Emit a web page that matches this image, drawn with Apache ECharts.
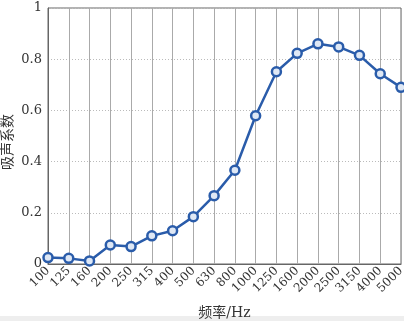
<!DOCTYPE html>
<html><head><meta charset="utf-8">
<script src="https://cdn.jsdelivr.net/npm/echarts@6/dist/echarts.min.js"></script>
<style>html,body{margin:0;padding:0;background:#fff}#c{width:404px;height:321px}</style>
</head><body><div id="c"></div>
<script>
const categories = ['100','125','160','200','250','315','400','500','630','800','1000','1250','1600','2000','2500','3150','4000','5000'];
const absorption = [0.025,0.022,0.012,0.074,0.068,0.11,0.13,0.185,0.267,0.366,0.579,0.751,0.823,0.86,0.848,0.815,0.743,0.69];
const yTicks = [0,0.2,0.4,0.6,0.8,1];
const yName = '吸声系数';
const xName = '频率/Hz';
const chart = echarts.init(document.getElementById('c'));
const serif = '"DejaVu Serif","Liberation Serif","Noto Sans CJK SC",serif';
chart.setOption({
  animation:false,
  backgroundColor:'#fff',
  graphic:[
    {type:'rect',left:0,top:316,shape:{width:404,height:5},style:{fill:'#eeeeee'},z:-1},
    {type:'text',x:8,y:142,rotation:Math.PI/2,
      style:{text:yName,font:'14px '+serif,fill:'#333',align:'center',verticalAlign:'middle'}}
  ],
  grid:{left:48,right:3,top:8,bottom:57,show:true,borderColor:'#666',borderWidth:1,outerBoundsMode:'none',containLabel:false},
  xAxis:{type:'category',data:categories,boundaryGap:false,
    name:xName,nameLocation:'middle',nameGap:42,nameMoveOverlap:false,
    nameTextStyle:{fontFamily:serif,fontSize:14,color:'#333'},
    axisLine:{lineStyle:{color:'#666'}},axisTick:{show:false},
    axisLabel:{rotate:45,fontFamily:serif,fontSize:12,color:'#333',margin:5,interval:0},
    splitLine:{show:true,lineStyle:{color:'#aaa',width:1}}},
  yAxis:{type:'value',min:0,max:1,interval:0.2,
    axisLine:{show:true,lineStyle:{color:'#666'}},axisTick:{show:false},
    axisLabel:{fontFamily:serif,fontSize:13,color:'#333',margin:6,
      formatter:v=>{const t=yTicks.find(x=>Math.abs(x-v)<1e-9);return t===undefined?'':String(t);}},
    splitLine:{show:true,lineStyle:{color:'#bbb',type:[1,2],width:1}}},
  series:[{type:'line',data:absorption,symbol:'circle',symbolSize:9,
    lineStyle:{color:'#2a5caa',width:2.5},
    itemStyle:{color:'#dfe8f5',borderColor:'#2a5caa',borderWidth:2.5}}]
});
</script></body></html>
